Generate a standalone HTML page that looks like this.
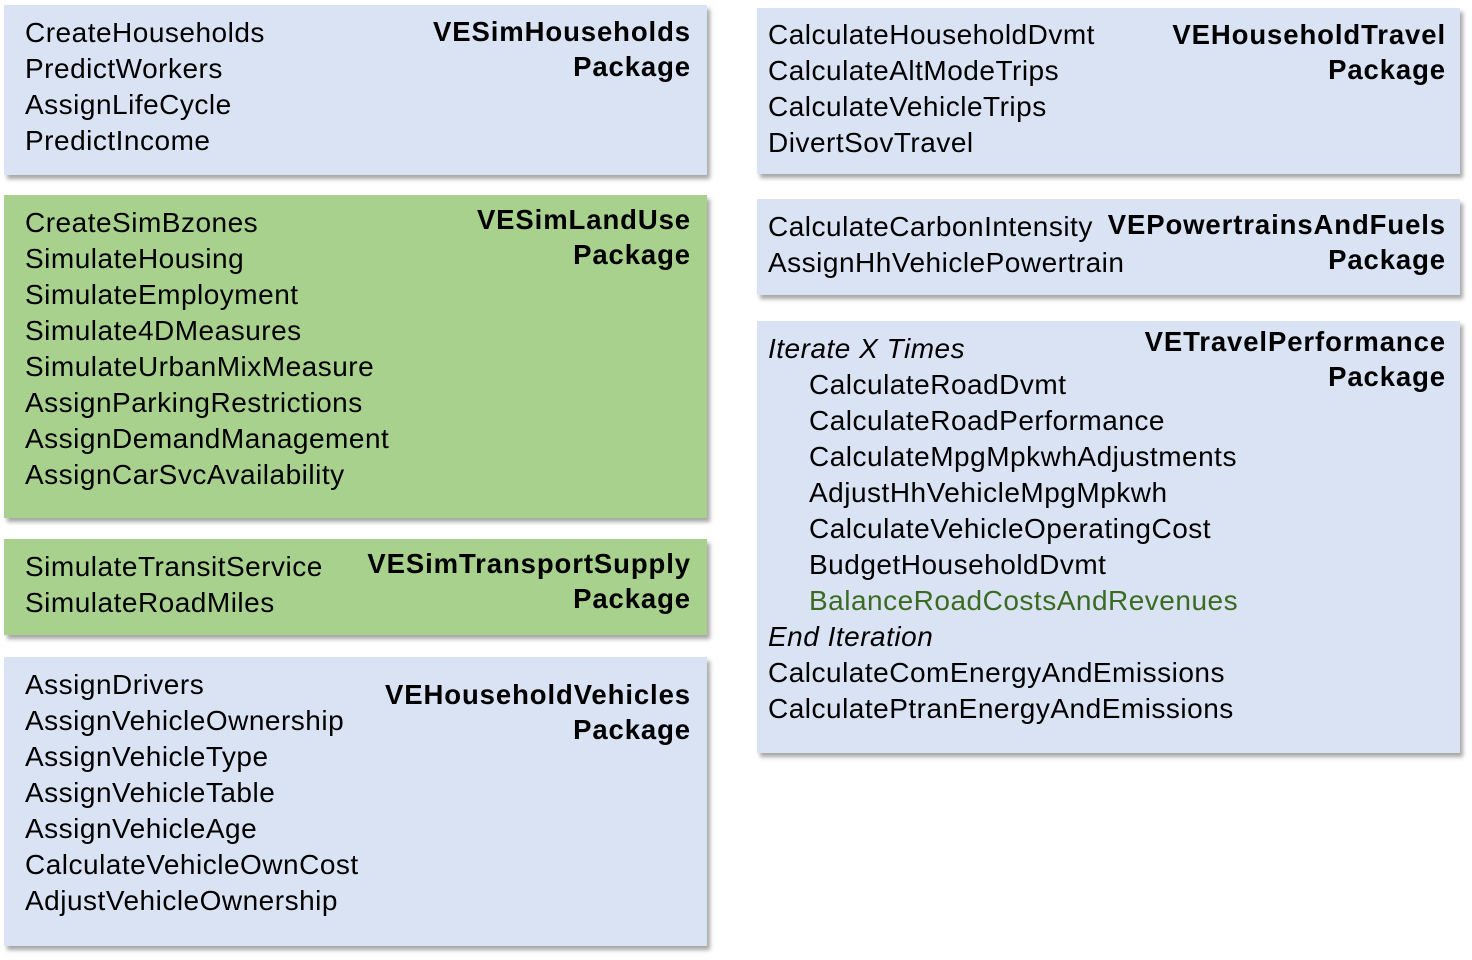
<!DOCTYPE html>
<html><head><style>
body{margin:0;width:1472px;height:960px;background:#fff;position:relative;overflow:hidden;font-family:"Liberation Sans",Arial,sans-serif;}
.b{position:absolute;background:#DAE3F3;box-shadow:3px 4px 4px rgba(0,0,0,0.35);}
.g{background:#A9D18E;}
.l{position:absolute;left:21px;font-size:28px;line-height:36px;color:#000;white-space:nowrap;letter-spacing:0.5px;}
.t{position:absolute;right:16px;font-size:27.5px;line-height:35px;font-weight:bold;text-align:right;white-space:nowrap;letter-spacing:0.9px;}
i{font-style:italic}
.in{padding-left:41px;display:inline-block}
</style></head><body>
<div class="b" style="left:4px;top:5px;width:703px;height:170px">
<div class="l" style="top:10px">CreateHouseholds<br>PredictWorkers<br>AssignLifeCycle<br>PredictIncome</div>
<div class="t" style="top:9px">VESimHouseholds<br>Package</div></div>
<div class="b g" style="left:4px;top:195px;width:703px;height:323px">
<div class="l" style="top:10px">CreateSimBzones<br>SimulateHousing<br>SimulateEmployment<br>Simulate4DMeasures<br>SimulateUrbanMixMeasure<br>AssignParkingRestrictions<br>AssignDemandManagement<br>AssignCarSvcAvailability</div>
<div class="t" style="top:7px">VESimLandUse<br>Package</div></div>
<div class="b g" style="left:4px;top:539px;width:703px;height:96px">
<div class="l" style="top:10px">SimulateTransitService<br>SimulateRoadMiles</div>
<div class="t" style="top:7px">VESimTransportSupply<br>Package</div></div>
<div class="b" style="left:4px;top:657px;width:703px;height:289px">
<div class="l" style="top:10px">AssignDrivers<br>AssignVehicleOwnership<br>AssignVehicleType<br>AssignVehicleTable<br>AssignVehicleAge<br>CalculateVehicleOwnCost<br>AdjustVehicleOwnership</div>
<div class="t" style="top:20px">VEHouseholdVehicles<br>Package</div></div>
<div class="b" style="left:757px;top:8px;width:703px;height:166px">
<div class="l" style="left:11px;top:9px">CalculateHouseholdDvmt<br>CalculateAltModeTrips<br>CalculateVehicleTrips<br>DivertSovTravel</div>
<div class="t" style="right:14px;top:9px">VEHouseholdTravel<br>Package</div></div>
<div class="b" style="left:757px;top:199px;width:703px;height:96px">
<div class="l" style="left:11px;top:10px">CalculateCarbonIntensity<br>AssignHhVehiclePowertrain</div>
<div class="t" style="right:14px;top:8px">VEPowertrainsAndFuels<br>Package</div></div>
<div class="b" style="left:757px;top:321px;width:703px;height:432px">
<div class="l" style="left:11px;top:10px"><i>Iterate X Times</i><br><span class="in">CalculateRoadDvmt</span><br><span class="in">CalculateRoadPerformance</span><br><span class="in">CalculateMpgMpkwhAdjustments</span><br><span class="in">AdjustHhVehicleMpgMpkwh</span><br><span class="in">CalculateVehicleOperatingCost</span><br><span class="in">BudgetHouseholdDvmt</span><br><span class="in" style="color:#3B6B22">BalanceRoadCostsAndRevenues</span><br><i>End Iteration</i><br>CalculateComEnergyAndEmissions<br>CalculatePtranEnergyAndEmissions</div>
<div class="t" style="right:14px;top:3px">VETravelPerformance<br>Package</div></div>
</body></html>
